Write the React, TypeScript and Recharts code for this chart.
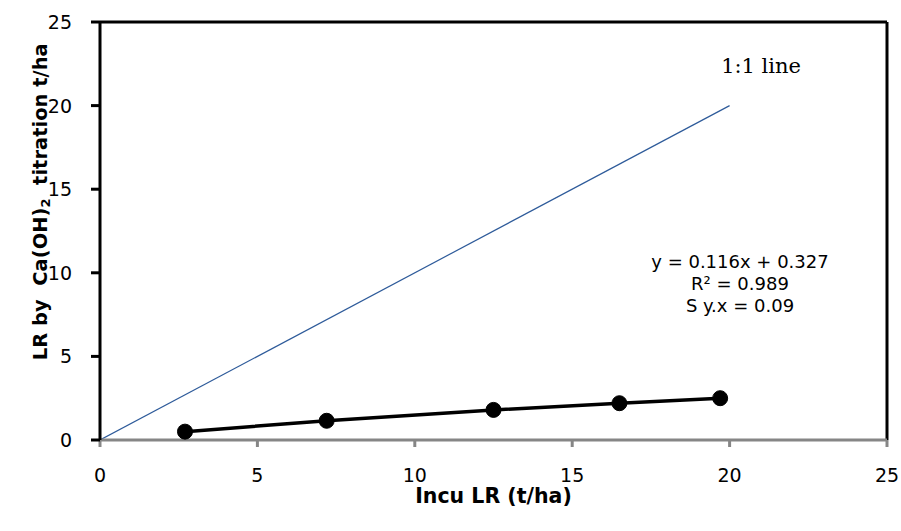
import {
  ComposedChart,
  Line,
  XAxis,
  YAxis,
  ReferenceLine,
  ReferenceDot,
  Label,
} from "recharts";

// Incubation LR (t/ha) vs LR from Ca(OH)2 titration (t/ha)
const incuLR = [2.7, 7.2, 12.5, 16.5, 19.7];
const titrationLR = [0.5, 1.15, 1.8, 2.2, 2.5];
const oneToOne = [0, 20];
const axisTicks = [0, 5, 10, 15, 20, 25];
const equationLines = ["y = 0.116x + 0.327", "R² = 0.989", "S y.x = 0.09"];

const measured = incuLR.map((x, i) => ({ x, y: titrationLR[i] }));
const identity = oneToOne.map((v) => ({ x: v, y: v }));

const FONT = "'DejaVu Sans', Verdana, sans-serif";
const SERIF = "'DejaVu Serif', 'Liberation Serif', serif";
const NB = "\u00a0";

function Marker(props: any) {
  const { cx, cy } = props;
  if (cx == null || cy == null) return null;
  return <circle cx={cx} cy={cy} r={7.5} fill="#000" stroke="#000" />;
}

function YTick(props: any) {
  const { x, y, payload } = props;
  return (
    <text
      x={x - 19}
      y={y}
      textAnchor="end"
      dominantBaseline="central"
      fontFamily={FONT}
      fontSize={19}
      fill="#000"
    >
      {payload.value}
    </text>
  );
}

function YTitle(props: any) {
  const vb = props.viewBox || {};
  const cx = 40;
  const cy = vb.y + vb.height * 0.43;
  return (
    <text
      x={cx}
      y={cy}
      transform={`rotate(-90, ${cx}, ${cy})`}
      textAnchor="middle"
      dominantBaseline="central"
      fontFamily={FONT}
      fontWeight="bold"
      fontSize={19.5}
      fill="#000"
    >
      <tspan>{`LR by${NB}${NB}Ca(OH)`}</tspan>
      <tspan fontSize={13} dy={5}>2</tspan>
      <tspan dy={-5}>{`${NB}${NB}titration t/ha`}</tspan>
    </text>
  );
}

function Equation(props: any) {
  const vb = props.viewBox || {};
  const x = vb.cx ?? vb.x;
  const y = vb.cy ?? vb.y;
  return (
    <text textAnchor="middle" fontFamily={FONT} fontSize={18} fill="#000">
      {equationLines.map((t, i) => (
        <tspan key={t} x={x} y={y + i * 22} dominantBaseline="central">
          {t}
        </tspan>
      ))}
    </text>
  );
}

export default function App() {
  return (
    <div style={{ position: "absolute", left: 0, top: 0, background: "#fff" }}>
      <ComposedChart
        width={901}
        height={531}
        margin={{ top: 22, right: 14, bottom: 0, left: 0 }}
      >
        <XAxis
          type="number"
          dataKey="x"
          domain={[0, 25]}
          ticks={axisTicks}
          allowDataOverflow
          height={91}
          axisLine={{ stroke: "#868686", strokeWidth: 3 }}
          tickLine={{ stroke: "#868686", strokeWidth: 3 }}
          tickSize={7}
          tickMargin={22}
          tick={{ fill: "#000", fontSize: 19, fontFamily: FONT }}
        >
          <Label
            value="Incu LR (t/ha)"
            position="insideBottom"
            offset={28}
            style={{ fontFamily: FONT, fontWeight: "bold", fontSize: 20.5, fill: "#000" }}
          />
        </XAxis>
        <YAxis
          type="number"
          dataKey="y"
          domain={[0, 25]}
          ticks={axisTicks}
          allowDataOverflow
          width={100}
          axisLine={{ stroke: "#000", strokeWidth: 3 }}
          tickLine={{ stroke: "#000", strokeWidth: 3 }}
          tickSize={9}
          tickMargin={0}
          tick={<YTick />}
        >
          <Label content={<YTitle />} />
        </YAxis>
        <ReferenceLine y={25} stroke="#000" strokeWidth={3} />
        <ReferenceLine x={25} stroke="#000" strokeWidth={3} />
        <Line
          data={identity}
          dataKey="y"
          type="linear"
          stroke="#2E5B9A"
          strokeWidth={1.2}
          dot={false}
          activeDot={false}
          isAnimationActive={false}
        />
        <Line
          data={measured}
          dataKey="y"
          type="linear"
          stroke="#000"
          strokeWidth={3.5}
          dot={<Marker />}
          activeDot={false}
          isAnimationActive={false}
        />
        <ReferenceDot x={21.0} y={22.37} r={0} fill="none" stroke="none">
          <Label
            value="1:1 line"
            position="center"
            style={{ fontFamily: SERIF, fontSize: 21, fill: "#000" }}
          />
        </ReferenceDot>
        <ReferenceDot x={20.33} y={10.7} r={0} fill="none" stroke="none">
          <Label content={<Equation />} />
        </ReferenceDot>
      </ComposedChart>
    </div>
  );
}
